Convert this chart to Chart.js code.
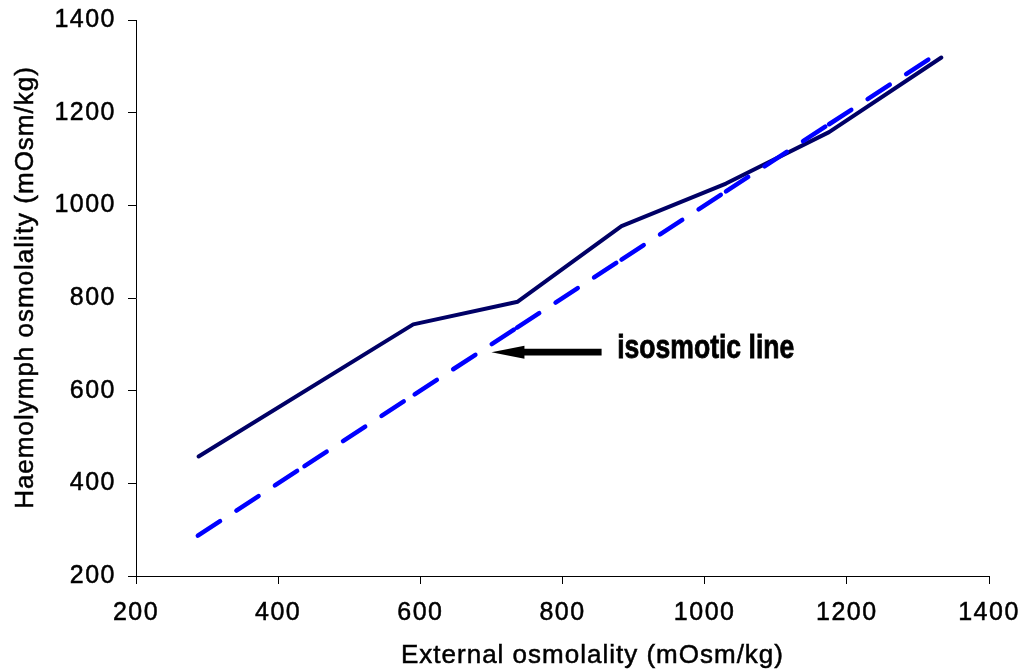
<!DOCTYPE html>
<html>
<head>
<meta charset="utf-8">
<script src="https://cdn.jsdelivr.net/npm/chart.js@4.4.1/dist/chart.umd.min.js"></script>
<style>
  html, body { margin: 0; padding: 0; background: #ffffff; }
  #wrap { width: 1021px; height: 670px; position: relative; }
</style>
</head>
<body>
<div id="wrap"><canvas id="chart" width="1021" height="670"></canvas></div>
<script>
// ---- data ----
const externalOsm   = [288, 590, 737, 883, 1030, 1175, 1333];
const haemolymphOsm = [458, 743, 792, 955, 1047, 1158, 1319];
const isoExternal   = [287, 437, 592, 736, 883, 1030, 1175, 1320];
const isoHaemolymph = [287, 437, 592, 736, 883, 1030, 1175, 1320];
const xTickValues = [200, 400, 600, 800, 1000, 1200, 1400];
const yTickValues = [200, 400, 600, 800, 1000, 1200, 1400];
const xTitle = 'External osmolality (mOsm/kg)';
const yTitle = 'Haemolymph osmolality (mOsm/kg)';
const annotationText = 'isosmotic line';

// annotation anchor (data coordinates)
const annotation = { tipX: 700, tailX: 855, y: 683, textX: 877, textY: 671 };

const FONT = "'Liberation Sans', Arial, Helvetica, sans-serif";

const haemoPoints = externalOsm.map((x, i) => ({ x: x, y: haemolymphOsm[i] }));
const isoPoints = isoExternal.map((x, i) => ({ x: x, y: isoHaemolymph[i] }));

const decor = {
  id: 'decor',
  beforeDraw(chart) {
    chart.ctx.letterSpacing = '1.5px';
  },
  afterDraw(chart) {
    const ctx = chart.ctx;
    const xs = chart.scales.x, ys = chart.scales.y;
    ctx.save();
    ctx.fillStyle = '#000000';
    ctx.strokeStyle = '#000000';
    // axis titles
    ctx.letterSpacing = '1px';
    ctx.font = '26px ' + FONT;
    ctx.textAlign = 'center';
    ctx.textBaseline = 'alphabetic';
    ctx.lineWidth = 0.5;
    ctx.fillText(xTitle, 592.5, 663);
    ctx.strokeText(xTitle, 592.5, 663);
    ctx.save();
    ctx.translate(33, 287.5);
    ctx.rotate(-Math.PI / 2);
    ctx.fillText(yTitle, 0, 0);
    ctx.strokeText(yTitle, 0, 0);
    ctx.restore();

    // arrow
    const tipX = xs.getPixelForValue(annotation.tipX);
    const tailX = xs.getPixelForValue(annotation.tailX);
    const ay = ys.getPixelForValue(annotation.y);
    const headLen = 33, headHalf = 6.5, shaftHalf = 3.4;
    ctx.beginPath();
    ctx.rect(tipX + headLen - 2, ay - shaftHalf, tailX - (tipX + headLen - 2), shaftHalf * 2);
    ctx.fill();
    ctx.beginPath();
    ctx.moveTo(tipX, ay);
    ctx.lineTo(tipX + headLen, ay - headHalf);
    ctx.lineTo(tipX + headLen, ay + headHalf);
    ctx.closePath();
    ctx.fill();

    // annotation text
    ctx.letterSpacing = '0px';
    ctx.font = "bold 33px 'Liberation Sans Narrow', 'Arial Narrow', " + FONT;
    ctx.textAlign = 'left';
    const w = ctx.measureText(annotationText).width;
    const tx = xs.getPixelForValue(annotation.textX);
    const ty = ys.getPixelForValue(annotation.textY);
    ctx.save();
    ctx.translate(tx, ty);
    ctx.scale(177 / w, 1);
    ctx.lineWidth = 0.8;
    ctx.fillText(annotationText, 0, 0);
    ctx.strokeText(annotationText, 0, 0);
    ctx.restore();
    ctx.restore();
  }
};

const axisCommon = {
  type: 'linear',
  min: 200,
  max: 1400,
  grid: {
    display: true,
    drawOnChartArea: false,
    drawTicks: true,
    tickLength: 8,
    color: '#000000',
    lineWidth: 1
  },
  border: { display: true, color: '#000000', width: 1 },
  title: { display: false }
};

const plainLabel = v => String(v);

new Chart(document.getElementById('chart'), {
  type: 'scatter',
  data: {
    datasets: [
      {
        label: 'Isosmotic line',
        data: isoPoints,
        showLine: true,
        borderColor: '#0000ff',
        backgroundColor: '#0000ff',
        borderWidth: 4.5,
        borderDash: [26.5, 19.5],
        borderCapStyle: 'round',
        borderJoinStyle: 'round',
        pointRadius: 0,
        pointHoverRadius: 0,
        tension: 0,
        segment: {
          borderDashOffset: c => (c.p0DataIndex % 2) * 0.01
        }
      },
      {
        label: 'Haemolymph osmolality',
        data: haemoPoints,
        showLine: true,
        borderColor: '#000066',
        backgroundColor: '#000066',
        borderWidth: 4,
        borderCapStyle: 'round',
        borderJoinStyle: 'round',
        pointRadius: 0,
        pointHoverRadius: 0,
        tension: 0
      }
    ]
  },
  options: {
    responsive: false,
    animation: false,
    devicePixelRatio: 1,
    layout: { padding: { left: 0, right: 32, top: 20, bottom: 0 } },
    plugins: {
      legend: { display: false },
      tooltip: { enabled: false }
    },
    scales: {
      x: Object.assign({}, axisCommon, {
        position: 'bottom',
        afterBuildTicks: s => { s.ticks = xTickValues.map(v => ({ value: v })); },
        afterFit: s => { s.height = 94; s.paddingLeft = 0; s.paddingRight = 0; },
        ticks: {
          color: '#000000',
          font: { family: FONT, size: 25 },
          padding: 14,
          maxRotation: 0,
          autoSkip: false,
          textStrokeColor: '#000000',
          textStrokeWidth: 0.5,
          callback: plainLabel
        }
      }),
      y: Object.assign({}, axisCommon, {
        position: 'left',
        afterBuildTicks: s => { s.ticks = yTickValues.map(v => ({ value: v })); },
        afterFit: s => { s.width = 136; s.paddingTop = 0; s.paddingBottom = 0; },
        ticks: {
          color: '#000000',
          font: { family: FONT, size: 25 },
          padding: 12,
          autoSkip: false,
          textStrokeColor: '#000000',
          textStrokeWidth: 0.5,
          callback: plainLabel
        }
      })
    }
  },
  plugins: [decor]
});
</script>
</body>
</html>
